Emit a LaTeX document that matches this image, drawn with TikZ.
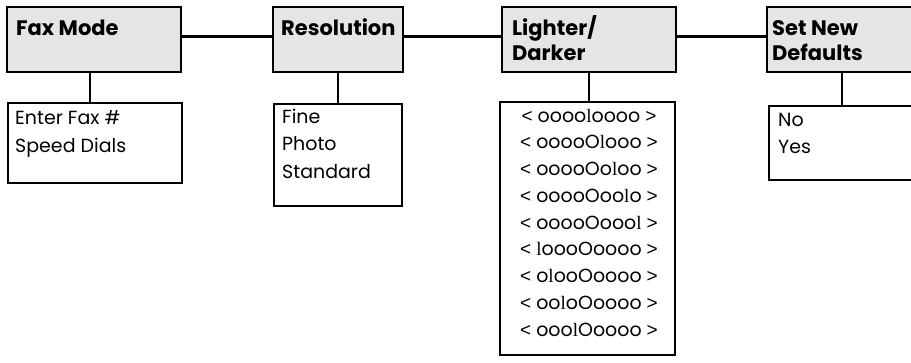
\documentclass[tikz,border=0pt]{standalone}
\usepackage{fontspec}
\setmainfont{Poppins}
\newfontfamily\romanell{Liberation Serif}
\newfontfamily\angfont{Liberation Sans}
\usetikzlibrary{positioning}

\newcommand{\stick}{{\romanell l}}
\newcommand{\lang}{{\angfont <}}
\newcommand{\rang}{{\angfont >}}

\begin{document}
\begin{tikzpicture}[x=1pt, y=-1pt,
      head/.style={draw, line width=2.6pt, fill=black!10, minimum height=65pt,
                   inner sep=0pt, outer sep=0pt},
      sub/.style={draw, line width=2.6pt, fill=white, inner sep=0pt, outer sep=0pt},
      headtext/.style={anchor=base west, align=left, inner sep=0pt,
                       font=\fontsize{21}{25}\selectfont\bfseries},
      subtext/.style={anchor=base west, align=left, inner sep=0pt,
                      font=\fontsize{19}{27.5}\selectfont},
      rowtext/.style={anchor=base, inner sep=0pt, font=\fontsize{19}{20}\selectfont},
      link/.style={line width=2.6pt}
    ]
      \clip (0,0) rectangle (911,362);
      \fill[white] (0,0) rectangle (911,362);

      % menu headers
      \node[head, minimum width=174pt] (fax)   at (94,39.5)  {};
      \node[head, minimum width=130pt] (res)   at (338,39.5) {};
      \node[head, minimum width=174pt] (light) at (589,39.5) {};
      \node[head, minimum width=150pt] (defs)  at (842,39.5) {};

      % base anchor = last line
      \node[headtext] (faxlabel)   at ([shift={(9,28)}]fax.north west)   {Fax Mode};
      \node[headtext] (reslabel)   at ([shift={(8,28)}]res.north west)   {Resolution};
      \node[headtext] (lightlabel) at ([shift={(10,53)}]light.north west) {Lighter/\\Darker};
      \node[headtext] (defslabel)  at ([shift={(5,53)}]defs.north west)  {Set New\\Defaults};

      % option lists
      \node[sub, minimum width=174pt, minimum height=80pt]  (faxsub)   at (95,143)    {};
      \node[sub, minimum width=128pt, minimum height=102pt] (ressub)   at (338,155)   {};
      \node[sub, minimum width=175pt, minimum height=253pt] (lightsub) at (587.5,228.5) {};
      \node[sub, minimum width=146pt, minimum height=74pt]  (defsub)   at (842,143)   {};

      \node[subtext] (faxopts) at ([shift={(7,49)}]faxsub.north west) {Enter Fax \#\\Speed Dials};
      \node[subtext] (resopts) at ([shift={(8,74)}]ressub.north west) {Fine\\Photo\\Standard};
      \node[subtext] (defopts) at ([shift={(9,47.5)}]defsub.north west) {No\\Yes};

      \foreach \row [count=\i from 0] in {%
          oooo\stick oooo, ooooO\stick ooo, ooooOo\stick oo,
          ooooOoo\stick o, ooooOooo\stick, \stick oooOoooo,
          o\stick ooOoooo, oo\stick oOoooo, ooo\stick Ooooo}
        \node[rowtext] (row\i) at (589,{122+26.75*\i}) {\lang\ \row\ \rang};

      % connectors
      \draw[link] ([yshift=3pt]fax.east)   -- ([yshift=3pt]res.west);
      \draw[link] ([yshift=3pt]res.east)   -- ([yshift=3pt]light.west);
      \draw[link] ([yshift=3pt]light.east) -- ([yshift=3pt]defs.west);
      \draw[link] ([xshift=-4pt]fax.south) -- ([xshift=-4pt]fax.south |- faxsub.north);
      \draw[link] (res.south)   -- (res.south |- ressub.north);
      \draw[link] (light.south) -- (light.south |- lightsub.north);
      \draw[link] (defs.south)  -- (defs.south |- defsub.north);
    \end{tikzpicture}
\end{document}
